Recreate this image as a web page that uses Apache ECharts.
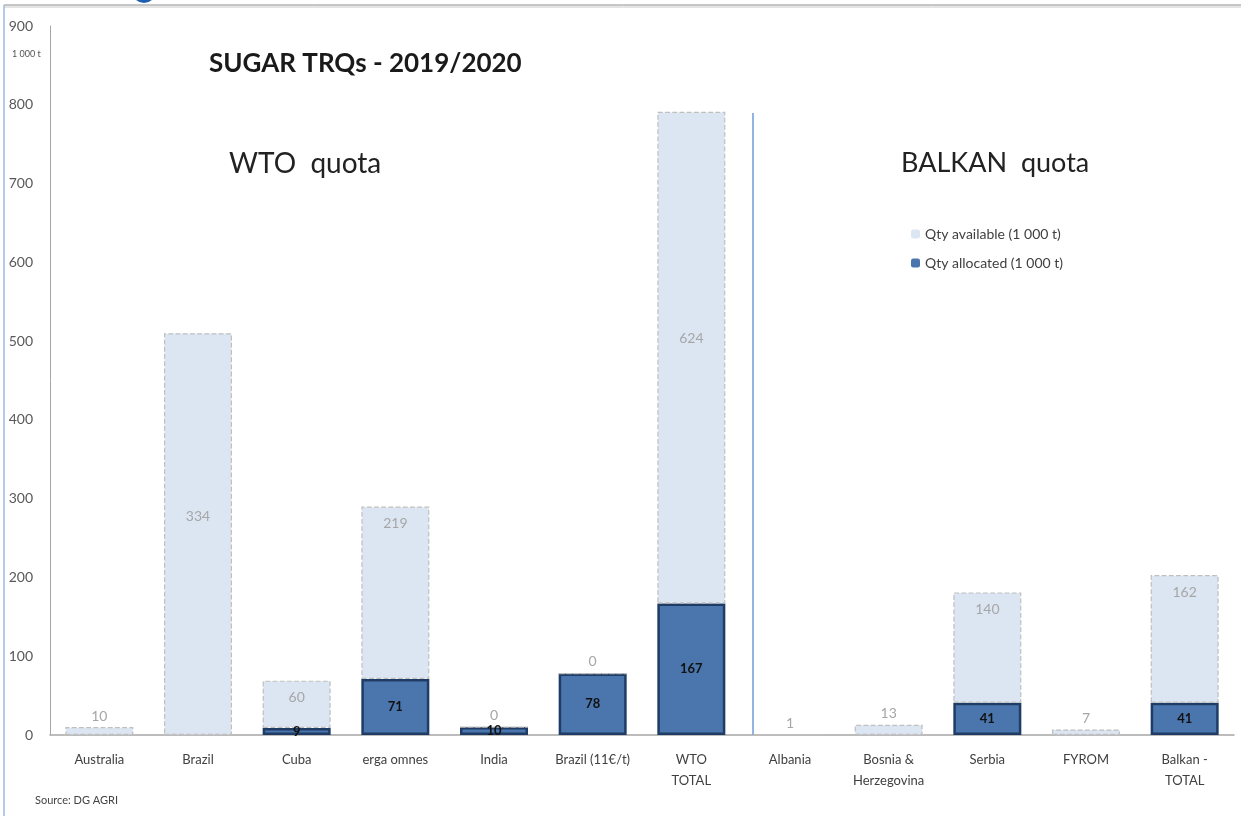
<!DOCTYPE html>
<html>
<head>
<meta charset="utf-8">
<script src="https://cdn.jsdelivr.net/npm/echarts@6/dist/echarts.min.js"></script>
<style>
  html, body { margin: 0; padding: 0; background: #fff; }
  #main { width: 1241px; height: 816px; }
</style>
</head>
<body>
<div id="main"></div>
<script>
const categories = ["Australia", "Brazil", "Cuba", "erga omnes", "India", "Brazil (11€/t)",
  "WTO\nTOTAL", "Albania", "Bosnia &\nHerzegovina", "Serbia", "FYROM", "Balkan -\nTOTAL"];
// dark segment (bottom)
const allocated = [0, 0, 9, 71, 10, 78, 167, 0, 0, 41, 0, 41];
// light segment height as drawn in the picture
const availableBar = [10, 510, 60, 219, 0, 0, 624, 1, 13, 140, 7, 162];
// numbers printed on the light segment
const availableLabel = [10, 334, 60, 219, 0, 0, 624, 1, 13, 140, 7, 162];
const yTicks = [0, 100, 200, 300, 400, 500, 600, 700, 800, 900];

// label tweaks for the light bars (index -> px down from top)
const labelDrop = { 1: 176, 6: 220 };

const chart = echarts.init(document.getElementById("main"));

const allocData = allocated.map(v =>
  v === 0 ? { value: 0, itemStyle: { borderWidth: 0 } } : v);

const availData = availableBar.map((v, i) => {
  let label;
  if (labelDrop[i] !== undefined) {
    label = { position: "insideTop", distance: labelDrop[i] };
  } else if (v < 20) {
    label = { position: "top", distance: 4 };
  } else {
    label = { position: "insideTop", distance: 10 };
  }
  return { value: v, label: label };
});

const option = {
  animation: false,
  textStyle: { fontFamily: "Lato, 'Open Sans', sans-serif" },
  title: [
    { text: "SUGAR TRQs - 2019/2020", left: 204, top: 46,
      textStyle: { fontSize: 26, fontWeight: "bold", color: "#1a1a1a" } },
    { text: "WTO  quota", left: 224, top: 145,
      textStyle: { fontSize: 28, fontWeight: "normal", color: "#222" } },
    { text: "BALKAN  quota", left: 896, top: 145,
      textStyle: { fontSize: 27, fontWeight: "normal", color: "#222" } },
    { text: "1 000 t", left: 7, top: 45,
      textStyle: { fontSize: 9, fontWeight: "normal", color: "#555" } },
    { text: "Source: DG AGRI", left: 30, top: 790,
      textStyle: { fontSize: 11, fontWeight: "normal", color: "#444" } }
  ],
  legend: {
    orient: "vertical",
    left: 906, top: 222,
    itemWidth: 9, itemHeight: 9, itemGap: 15,
    itemStyle: { borderWidth: 0 },
    textStyle: { fontSize: 14, color: "#404040" },
    data: ["Qty available (1 000 t)", "Qty allocated (1 000 t)"]
  },
  grid: { left: 50, right: 7, top: 26, bottom: 81 },
  xAxis: {
    type: "category",
    data: categories,
    axisLine: { lineStyle: { color: "#a6a6a6", width: 1.5 } },
    axisTick: { show: false },
    axisLabel: { color: "#404040", fontSize: 13, margin: 14, interval: 0, lineHeight: 21 }
  },
  yAxis: {
    type: "value",
    min: yTicks[0], max: yTicks[yTicks.length - 1], interval: 100,
    axisLine: { show: true, lineStyle: { color: "#a6a6a6" } },
    axisTick: { show: false },
    splitLine: { show: false },
    axisLabel: { color: "#595959", fontSize: 14, margin: 17 }
  },
  series: [
    {
      name: "Qty allocated (1 000 t)",
      type: "bar",
      stack: "q",
      barWidth: 68,
      data: allocData,
      itemStyle: { color: "#4a76ad", borderColor: "#1f3c66", borderWidth: 2.5 },
      label: {
        show: true, position: "inside",
        color: "#111", fontSize: 13, fontWeight: "bold",
        formatter: p => p.value > 0 ? p.value : ""
      }
    },
    {
      name: "Qty available (1 000 t)",
      type: "bar",
      stack: "q",
      barWidth: 68,
      data: availData,
      itemStyle: { color: "#dce6f2", borderColor: "#bfbfbf", borderWidth: 1.2, borderType: "dashed" },
      label: {
        show: true, color: "#a6a6a6", fontSize: 14,
        formatter: p => String(availableLabel[p.dataIndex])
      }
    }
  ],
  graphic: [
    { type: "line", shape: { x1: 4, y1: 5, x2: 1241, y2: 5 }, style: { stroke: "#8c8c8c", lineWidth: 1 } },
    { type: "line", shape: { x1: 4, y1: 7, x2: 1241, y2: 7 }, style: { stroke: "#c8c8c8", lineWidth: 1 } },
    { type: "line", shape: { x1: 4, y1: 5, x2: 4, y2: 816 }, style: { stroke: "#9dbbe0", lineWidth: 1.5 } },
    { type: "circle", shape: { cx: 144, cy: -9, r: 12 }, style: { fill: "#1f5fb0" } },
    { type: "line", shape: { x1: 753, y1: 113, x2: 753, y2: 735 }, style: { stroke: "#6f9bd6", lineWidth: 1.5 } }
  ]
};

chart.setOption(option);
</script>
</body>
</html>
